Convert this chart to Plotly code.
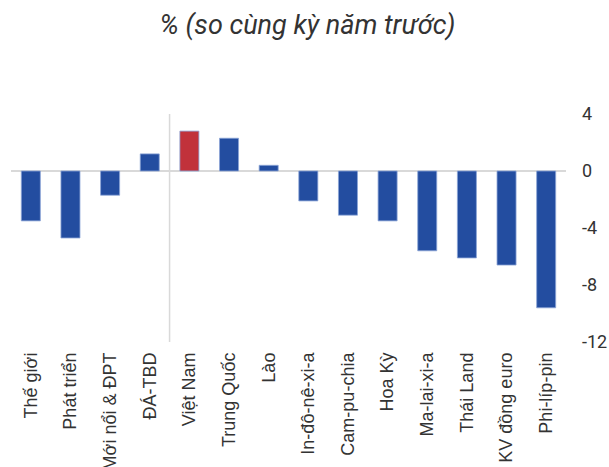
import plotly.graph_objects as go

categories = ["Thế giới", "Phát triển", "Mới nổi & ĐPT", "ĐÁ-TBD", "Việt Nam",
              "Trung Quốc", "Lào", "In-đô-nê-xi-a", "Cam-pu-chia", "Hoa Kỳ",
              "Ma-lai-xi-a", "Thái Land", "KV đồng euro", "Phi-líp-pin"]
values = [-3.5, -4.7, -1.7, 1.2, 2.8, 2.3, 0.4, -2.1, -3.1, -3.5, -5.6, -6.1, -6.6, -9.6]
highlight = "Việt Nam"
tick_vals = [4, 0, -4, -8, -12]
tick_text = ["4", "0", "-4", "-8", "-12"]
title_text = "% (so cùng kỳ năm trước)"

BLUE = "#234DA0"
RED = "#C1323B"
colors = [RED if c == highlight else BLUE for c in categories]

fig = go.Figure(go.Bar(
    x=categories, y=values,
    marker=dict(color=colors, line=dict(color="rgba(140,165,215,0.8)", width=1)),
    width=0.48,
))

sep_index = categories.index(highlight) - 0.5
fig.add_shape(type="line", xref="x", yref="y", x0=sep_index, x1=sep_index,
              y0=-12, y1=4, line=dict(color="#d9d9d9", width=1.5), layer="below")
fig.add_shape(type="line", xref="paper", yref="y", x0=0, x1=1,
              y0=0, y1=0, line=dict(color="#d9d9d9", width=2), layer="below")

fig.update_layout(
    width=609, height=467,
    margin=dict(l=11, r=43, t=114, b=125, autoexpand=False),
    paper_bgcolor="white", plot_bgcolor="white",
    showlegend=False,
    title=dict(text=title_text, x=0.505, xref="container", xanchor="center",
               y=0.947, yref="container", yanchor="middle",
               font=dict(family="Roboto", size=27, color="#333333", style="italic")),
    xaxis=dict(showgrid=False, zeroline=False, showline=False, ticks="",
               automargin=False, ticklabelstandoff=6,
               tickangle=-90, range=[-0.5, len(categories) - 0.5],
               tickfont=dict(family="Liberation Sans, Arial", size=18, color="#333333")),
    yaxis=dict(side="right", range=[-12, 4], tickvals=tick_vals, ticktext=tick_text,
               showgrid=False, zeroline=False, showline=False, ticks="",
               automargin=False,
               ticklabelstandoff=15,
               tickfont=dict(family="Roboto", size=18, color="#333333")),
)

fig.write_html("out.html", config={"displayModeBar": False},
               post_script="document.body.style.margin='0';document.body.style.overflow='hidden';")
